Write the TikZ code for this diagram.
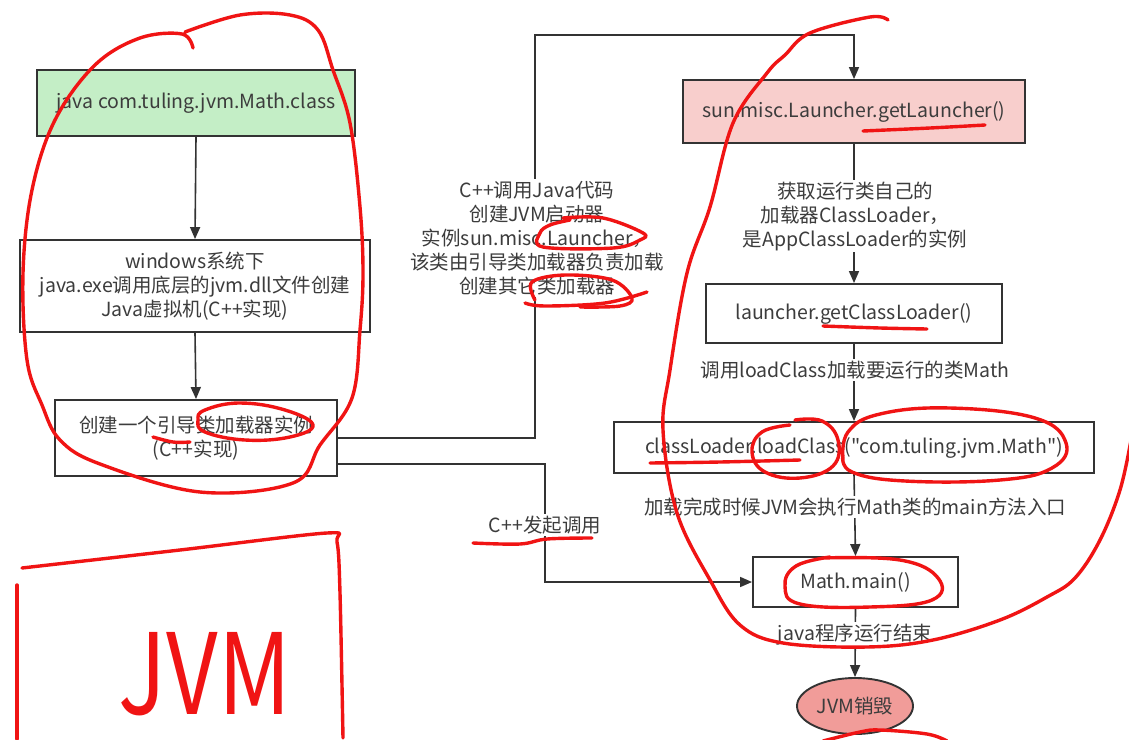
\documentclass[tikz,border=0pt]{standalone}
\usepackage{fontspec}
\setmainfont{Noto Sans CJK SC}[Ligatures=TeXOff]
\usetikzlibrary{arrows.meta,shapes.geometric}
\definecolor{ink}{HTML}{333333}
\definecolor{txt}{HTML}{3C3C3C}
\definecolor{gfill}{HTML}{C4EEC6}
\definecolor{pfill}{HTML}{F8CECC}
\definecolor{efill}{HTML}{F19C99}
\definecolor{pen}{HTML}{F01414}
\begin{document}
\begin{tikzpicture}[x=1pt,y=-1pt,
  every node/.style={font=\fontsize{19.5}{24}\selectfont, text=txt},
  box/.style={draw=ink, line width=1.9pt, rectangle, align=center, inner sep=0pt},
  conn/.style={draw=ink, line width=1.6pt, -{Triangle[length=12pt,width=10pt]}},
  lbl/.style={fill=white, align=center, inner sep=2pt},
  scrib/.style={draw=pen, line width=3.4pt, line cap=round, line join=round}
]
\useasboundingbox (0,0) rectangle (1129,739);
\fill[white] (0,0) rectangle (1129,739);

% ---------- left column ----------
\node[box, fill=gfill, minimum width=318, minimum height=66] (g) at (196,103) {java com.tuling.jvm.Math.class};
\node[box, minimum width=350, minimum height=92] (b2) at (195,286) {windows系统下\\java.exe调用底层的jvm.dll文件创建\\Java虚拟机(C++实现)};
\node[box, minimum width=282, minimum height=76] (b3) at (196,438) {创建一个引导类加载器实例\\(C++实现)};

% ---------- right column ----------
\node[box, fill=pfill, minimum width=342, minimum height=63] (p) at (854,111.5) {sun.misc.Launcher.getLauncher()};
\node[box, minimum width=296, minimum height=59] (c) at (854,313.5) {launcher.getClassLoader()};
\node[box, minimum width=480, minimum height=51] (lc) at (854,447.5) {classLoader.loadClass("com.tuling.jvm.Math")};
\node[box, minimum width=205, minimum height=50] (m) at (855.5,582) {Math.main()};
\node[draw=ink, line width=1.9pt, fill=efill, ellipse, minimum width=116, minimum height=56, inner sep=0pt] (e) at (855,706) {JVM销毁};

% ---------- connectors ----------
\coordinate (t1) at (535,35);
\coordinate (b3r) at (337,464);
\coordinate (t2) at (545,464);

\draw[conn] (g.south) -- (b2.north);
\draw[conn] (b2.south) -- (b3.north);
\draw[conn] (b3.east) -| (t1) -| (p.north);
\draw[conn] (b3r) -- (t2) |- (m.west);
\draw[conn] (p.south) -- (c.north);
\draw[conn] (c.south) -- (lc.north);
\draw[conn] (lc.south) -- (m.north);
\draw[conn] (m.south) -- (e.north);

% ---------- labels ----------
\node[lbl] (l1) at (537,238) {C++调用Java代码\\创建JVM启动器\\实例sun.misc.Launcher，\\该类由引导类加载器负责加载\\创建其它类加载器};
\node[lbl] (l2) at (545,525) {C++发起调用};
\node[lbl] (l3) at (855,216) {获取运行类自己的\\加载器ClassLoader，\\是AppClassLoader的实例};
\node[lbl] (l4) at (855,370) {调用loadClass加载要运行的类Math};
\node[lbl] (l5) at (855,507) {加载完成时候JVM会执行Math类的main方法入口};
\node[lbl] (l6) at (855,635) {java程序运行结束};

% ---------- red hand annotations ----------
% big loop round the left column
\draw[scrib] plot[smooth, tension=0.6] coordinates {(193,48) (182,34) (140,38) (95,65) (55,120) (32,190) (23,273) (27,360) (42,405) (60,440) (100,464) (200,492) (293,483) (320,445) (352,398) (360,330) (363,273) (360,207) (350,123) (333,70) (318,30) (290,15) (240,15) (185,32)};
% loop round 类加载器实例
\draw[scrib] plot[smooth cycle, tension=0.7] coordinates {(205,410) (240,403) (285,410) (313,425) (290,437) (245,440) (205,432) (198,420)};
\draw[scrib] plot[smooth, tension=0.6] coordinates {(153,437) (173,442) (190,442)};
% JVM box and writing
\draw[scrib] plot[smooth, tension=0.5] coordinates {(22,568) (180,550) (327,533) (337,542) (340,593) (343,738)};
\draw[scrib] (17,585) -- (17,739);
\node[text=pen, font=\fontsize{112}{112}\selectfont, inner sep=0pt] (jvm) at (205,674) {\scalebox{0.8}[1]{JVM}};
% loops in the middle label
\draw[scrib] plot[smooth, tension=0.6] coordinates {(563,218) (603,218) (643,233) (640,240) (613,248) (543,247) (540,233) (550,225) (570,220)};
\draw[scrib] plot[smooth, tension=0.6] coordinates {(647,292) (605,303) (545,306) (525,303)};
\draw[scrib] plot[smooth, tension=0.6] coordinates {(535,300) (532,282) (565,275) (612,280) (632,298) (620,306) (580,307)};
\draw[scrib] plot[smooth, tension=0.6] coordinates {(473,543) (520,544) (547,539) (592,538)};
% big loop round the right column
\draw[scrib] plot[smooth, tension=0.6] coordinates {(888,20) (870,17) (810,33) (785,55) (767,73) (733,123) (710,207) (687,273) (670,370) (663,430) (677,513) (710,580) (740,625) (783,643) (867,647) (933,640) (1000,620) (1047,597) (1075,578) (1100,540) (1120,490) (1131,440)};
% underlines
\draw[scrib] plot[smooth, tension=0.6] coordinates {(863,131) (930,128) (985,125)};
\draw[scrib] plot[smooth, tension=0.6] coordinates {(823,326) (880,328) (927,329)};
\draw[scrib] plot[smooth, tension=0.6] coordinates {(650,463) (720,462) (800,460)};
% loops round loadClass, the argument and Math.main()
\draw[scrib] plot[smooth, tension=0.7] coordinates {(790,425) (762,432) (752,452) (765,472) (800,478) (833,466) (838,440) (822,421) (795,420)};
\draw[scrib] plot[smooth, tension=0.7] coordinates {(843,460) (848,432) (880,414) (950,408) (1035,418) (1066,443) (1052,468) (1000,480) (905,481) (852,472) (843,455)};
\draw[scrib] plot[smooth, tension=0.7] coordinates {(822,558) (900,560) (938,578) (932,600) (870,607) (800,604) (785,586) (796,566) (830,557)};
% arc below JVM销毁
\draw[scrib] plot[smooth, tension=0.6] coordinates {(823,741) (860,732) (880,730) (927,734) (947,741)};
\end{tikzpicture}
\end{document}
